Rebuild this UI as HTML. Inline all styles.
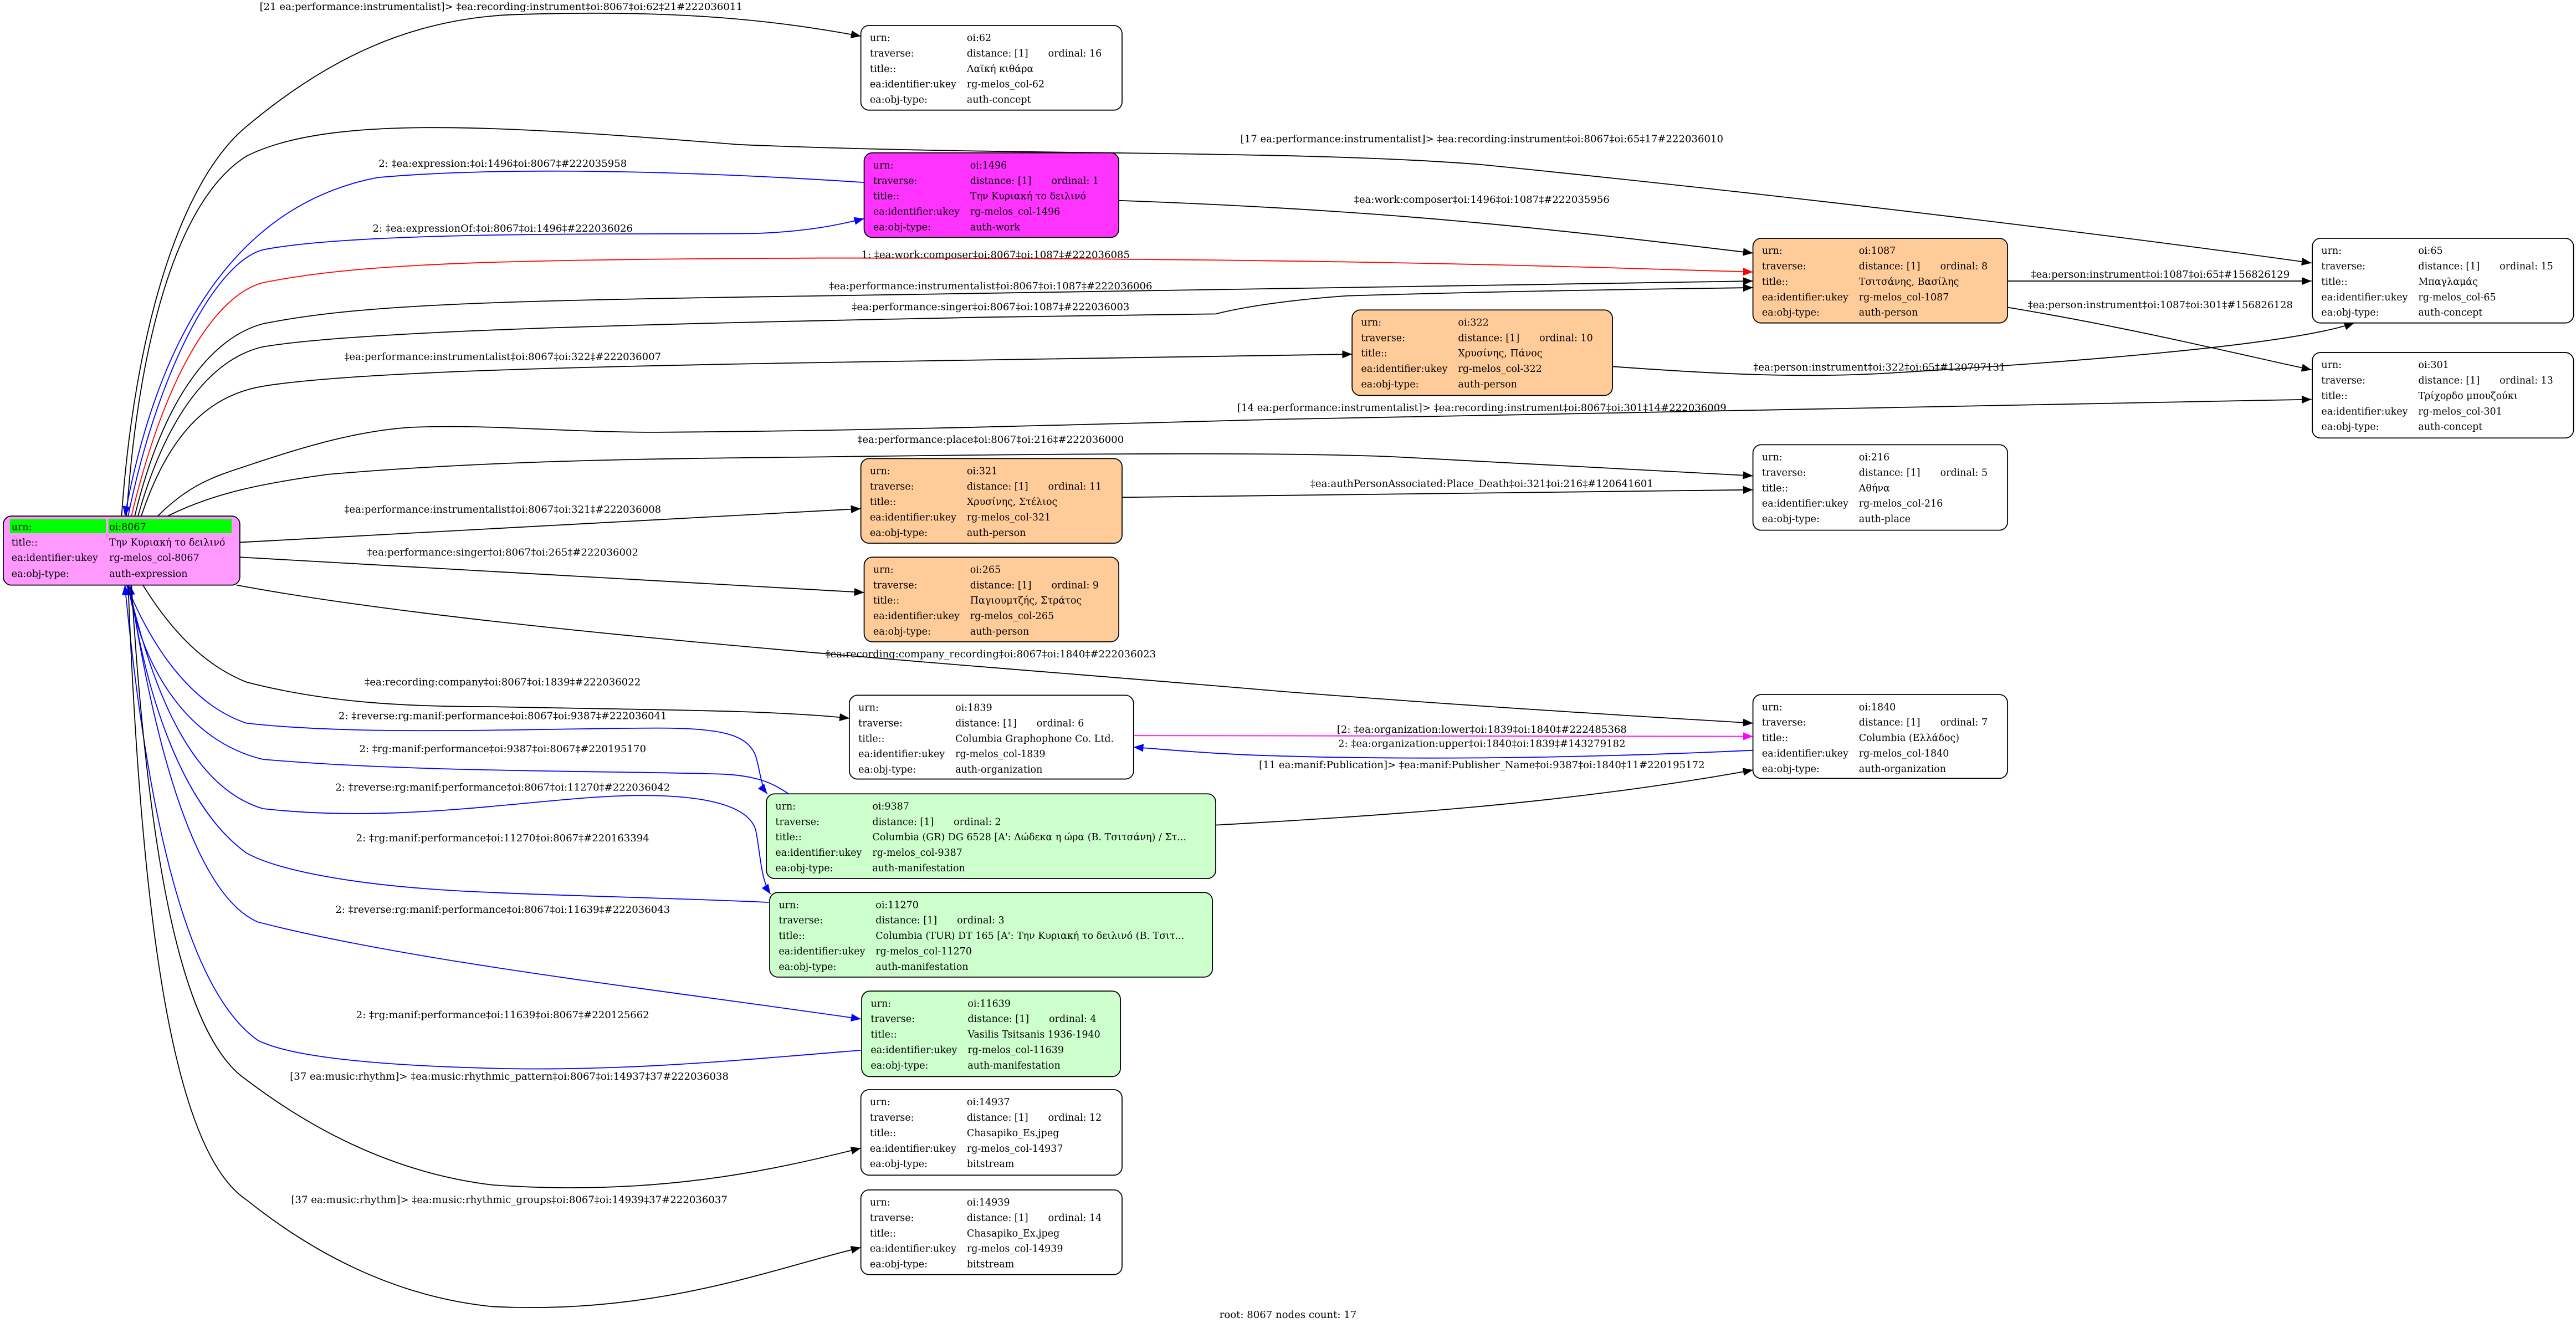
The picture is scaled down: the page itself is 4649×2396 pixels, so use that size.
<!DOCTYPE html>
<html><head><meta charset="utf-8"><style>
html,body{margin:0;padding:0;background:#fff;}
svg{display:block;}
text{font-family:"DejaVu Serif","Liberation Serif",serif;}
.n text{font-size:5.9px;}
.e{font-size:6.1px;text-anchor:middle;}
path.k{fill:none;stroke:#000;stroke-width:0.6;}
path.b{fill:none;stroke:#00f;stroke-width:0.6;}
path.r{fill:none;stroke:#f00;stroke-width:0.6;}
path.m{fill:none;stroke:#f0f;stroke-width:0.6;}
</style></head><body>
<svg width="4649" height="2396" viewBox="0 0 1568 808" preserveAspectRatio="none" xmlns="http://www.w3.org/2000/svg">
<defs>
<marker id="ak" markerUnits="userSpaceOnUse" markerWidth="7" markerHeight="5" refX="6" refY="2.4" orient="auto"><path d="M0,0 L6,2.4 L0,4.8 z" fill="#000"/></marker>
<marker id="ab" markerUnits="userSpaceOnUse" markerWidth="7" markerHeight="5" refX="6" refY="2.4" orient="auto"><path d="M0,0 L6,2.4 L0,4.8 z" fill="#00f"/></marker>
<marker id="ar" markerUnits="userSpaceOnUse" markerWidth="7" markerHeight="5" refX="6" refY="2.4" orient="auto"><path d="M0,0 L6,2.4 L0,4.8 z" fill="#f00"/></marker>
<marker id="am" markerUnits="userSpaceOnUse" markerWidth="7" markerHeight="5" refX="6" refY="2.4" orient="auto"><path d="M0,0 L6,2.4 L0,4.8 z" fill="#f0f"/></marker>
</defs>
<rect width="1568" height="808" fill="#fff"/>

<path class="k" marker-end="url(#ak)" d="M74,314 C82,200 110,110 150,77 C200,35 250,12 310,9 C420,5 480,14 524,22"/>
<text class="e" x="305" y="6">[21 ea:performance:instrumentalist]&gt; ‡ea:recording:instrument‡oi:8067‡oi:62‡21#222036011</text>

<path class="k" marker-end="url(#ak)" d="M77,314 C85,200 110,120 150,95 C200,70 300,76 450,88 C620,95 784,91 900,100 C1100,120 1300,145 1407,160"/>
<text class="e" x="902" y="86.5">[17 ea:performance:instrumentalist]&gt; ‡ea:recording:instrument‡oi:8067‡oi:65‡17#222036010</text>

<path class="b" marker-end="url(#ab)" d="M526,111 C450,106 320,100 230,108 C140,125 95,210 76,314"/>
<text class="e" x="306" y="101.5">2: ‡ea:expression:‡oi:1496‡oi:8067‡#222035958</text>

<path class="b" marker-end="url(#ab)" d="M78,314 C95,230 130,160 160,152 C220,140 400,143 460,142 C490,141 510,137 526,133"/>
<text class="e" x="306" y="141">2: ‡ea:expressionOf:‡oi:8067‡oi:1496‡#222036026</text>

<path class="k" marker-end="url(#ak)" d="M681,122 C850,128 950,140 1067,154"/>
<text class="e" x="902" y="123.5">‡ea:work:composer‡oi:1496‡oi:1087‡#222035956</text>

<path class="r" marker-end="url(#ar)" d="M80,314 C100,230 130,180 160,172 C220,160 300,158 500,157 C800,157 950,162 1067,165.5"/>
<text class="e" x="606" y="157">1: ‡ea:work:composer‡oi:8067‡oi:1087‡#222036085</text>

<path class="k" marker-end="url(#ak)" d="M82,314 C100,240 130,205 160,197 C220,185 300,183 500,180 C800,177 950,172 1067,171"/>
<text class="e" x="603" y="176">‡ea:performance:instrumentalist‡oi:8067‡oi:1087‡#222036006</text>

<path class="k" marker-end="url(#ak)" d="M84,314 C102,250 130,218 160,211 C220,201 400,197 600,193 L740,191 C760,186 790,182 820,180 C920,177 1000,176 1067,175"/>
<text class="e" x="603" y="188.6">‡ea:performance:singer‡oi:8067‡oi:1087‡#222036003</text>

<path class="k" marker-end="url(#ak)" d="M86,314 C104,260 130,240 160,235 C220,225 400,222 600,219 L823,215.5"/>
<text class="e" x="306" y="219">‡ea:performance:instrumentalist‡oi:8067‡oi:322‡#222036007</text>

<path class="k" marker-end="url(#ak)" d="M1222,171 L1407,171"/>
<text class="e" x="1315" y="169">‡ea:person:instrument‡oi:1087‡oi:65‡#156826129</text>

<path class="k" marker-end="url(#ak)" d="M1222,187 C1300,200 1360,215 1407,225"/>
<text class="e" x="1315" y="187.5">‡ea:person:instrument‡oi:1087‡oi:301‡#156826128</text>

<path class="k" marker-end="url(#ak)" d="M981.5,223 C1050,228 1100,230 1150,227 C1300,218 1400,208 1433,196.5"/>
<text class="e" x="1144" y="225.5">‡ea:person:instrument‡oi:322‡oi:65‡#120797131</text>

<path class="k" marker-end="url(#ak)" d="M96,314 C115,295 130,290 150,283.5 C190,270 220,262 250,260 C300,258 340,263 400,263 C550,262 700,257 784,255 C1000,251 1250,246 1407,243"/>
<text class="e" x="902" y="250">[14 ea:performance:instrumentalist]&gt; ‡ea:recording:instrument‡oi:8067‡oi:301‡14#222036009</text>

<path class="k" marker-end="url(#ak)" d="M102,314 C130,300 160,294 200,288.6 C300,280 400,279 500,278 C650,276 784,275 850,278 C950,283 1010,286 1067,289.5"/>
<text class="e" x="603" y="269.5">‡ea:performance:place‡oi:8067‡oi:216‡#222036000</text>

<path class="k" marker-end="url(#ak)" d="M683,302.6 L1067,298"/>
<text class="e" x="902" y="296.3">‡ea:authPersonAssociated:Place_Death‡oi:321‡oi:216‡#120641601</text>

<path class="k" marker-end="url(#ak)" d="M146,330 L524,309.5"/>
<text class="e" x="306" y="312">‡ea:performance:instrumentalist‡oi:8067‡oi:321‡#222036008</text>

<path class="k" marker-end="url(#ak)" d="M146,339 L526,360.5"/>
<text class="e" x="306" y="338">‡ea:performance:singer‡oi:8067‡oi:265‡#222036002</text>

<path class="k" marker-end="url(#ak)" d="M144,356 C300,385 600,405 784,421 C900,430 1000,436 1067,440"/>
<text class="e" x="603" y="400">‡ea:recording:company_recording‡oi:8067‡oi:1840‡#222036023</text>

<path class="k" marker-end="url(#ak)" d="M87,356 C105,385 125,405 150,415 C200,428 250,430 300,430 C400,432 470,432 517,437"/>
<text class="e" x="306" y="417">‡ea:recording:company‡oi:8067‡oi:1839‡#222036022</text>

<path class="m" marker-end="url(#am)" d="M690,447.6 L1067,448"/>
<text class="e" x="902" y="445.8">[2: ‡ea:organization:lower‡oi:1839‡oi:1840‡#222485368</text>

<path class="b" marker-end="url(#ab)" d="M1067,456.5 C950,462 850,462 780,460 C740,459 710,456 690,454.6"/>
<text class="e" x="902" y="454.5">2: ‡ea:organization:upper‡oi:1840‡oi:1839‡#143279182</text>

<path class="k" marker-end="url(#ak)" d="M740,502 C850,496 960,488 1067,468.5"/>
<text class="e" x="902" y="467.4">[11 ea:manif:Publication]&gt; ‡ea:manif:Publisher_Name‡oi:9387‡oi:1840‡11#220195172</text>

<path class="b" marker-end="url(#ab)" d="M77,356 C95,400 120,430 150,440 C220,448 330,443 400,443 C440,443 455,447 460,460 C463,470 463,478 467,483"/>
<text class="e" x="306" y="437.5">2: ‡reverse:rg:manif:performance‡oi:8067‡oi:9387‡#222036041</text>

<path class="b" marker-end="url(#ab)" d="M480,483 C470,476 460,472 440,471 C380,469 250,470 160,462 C110,450 85,400 78,356"/>
<text class="e" x="306" y="457.6">2: ‡rg:manif:performance‡oi:9387‡oi:8067‡#220195170</text>

<path class="b" marker-end="url(#ab)" d="M78,356 C95,430 120,480 160,492 C230,500 300,490 350,486 C420,480 455,488 460,505 C463,520 463,535 469,544"/>
<text class="e" x="306" y="481">2: ‡reverse:rg:manif:performance‡oi:8067‡oi:11270‡#222036042</text>

<path class="b" marker-end="url(#ab)" d="M468,549 C400,546 340,545 300,543 C220,540 170,530 150,519 C110,490 88,420 79,356"/>
<text class="e" x="306" y="512">2: ‡rg:manif:performance‡oi:11270‡oi:8067‡#220163394</text>

<path class="b" marker-end="url(#ab)" d="M79,356 C95,460 120,545 157,561 C250,585 400,602 524,620"/>
<text class="e" x="306" y="555.5">2: ‡reverse:rg:manif:performance‡oi:8067‡oi:11639‡#222036043</text>

<path class="b" marker-end="url(#ab)" d="M524,639 C450,645 380,652 300,650 C220,648 175,642 157,633 C110,600 88,480 76,356"/>
<text class="e" x="306" y="619.5">2: ‡rg:manif:performance‡oi:11639‡oi:8067‡#220125662</text>

<path class="k" marker-end="url(#ak)" d="M80,356 C90,520 110,630 150,657 C200,695 250,715 300,721 C400,728 470,712 524,698.6"/>
<text class="e" x="310" y="657">[37 ea:music:rhythm]&gt; ‡ea:music:rhythmic_pattern‡oi:8067‡oi:14937‡37#222036038</text>

<path class="k" marker-end="url(#ak)" d="M78,356 C86,560 105,700 150,730 C200,770 250,790 300,795 C400,800 470,772 524,759"/>
<text class="e" x="310" y="732">[37 ea:music:rhythm]&gt; ‡ea:music:rhythmic_groups‡oi:8067‡oi:14939‡37#222036037</text>

<g class="n">
<rect x="2" y="314" width="144" height="42" rx="5" fill="#ff99ff" stroke="#000" stroke-width="0.6"/>
<rect x="6" y="315.8" width="58.5" height="8.6" fill="#00ff00"/>
<rect x="66" y="315.8" width="75" height="8.6" fill="#00ff00"/>
<text x="7" y="322.5">urn:</text><text x="66.5" y="322.5">oi:8067</text>
<text x="7" y="332">title::</text><text x="66.5" y="332">Την Κυριακή το δειλινό</text>
<text x="7" y="341.3">ea:identifier:ukey</text><text x="66.5" y="341.3">rg-melos_col-8067</text>
<text x="7" y="351">ea:obj-type:</text><text x="66.5" y="351">auth-expression</text>
</g>

<g class="n">
<rect x="524" y="15.5" width="159" height="51.5" rx="5" fill="#fff" stroke="#000" stroke-width="0.6"/>
<text x="529.5" y="25">urn:</text><text x="588.5" y="25">oi:62</text>
<text x="529.5" y="34.4">traverse:</text><text x="588.5" y="34.4">distance: [1]</text><text x="638" y="34.4">ordinal: 16</text>
<text x="529.5" y="43.8">title::</text><text x="588.5" y="43.8">Λαϊκή κιθάρα</text>
<text x="529.5" y="53.2">ea:identifier:ukey</text><text x="588.5" y="53.2">rg-melos_col-62</text>
<text x="529.5" y="62.6">ea:obj-type:</text><text x="588.5" y="62.6">auth-concept</text>
</g>
<g class="n">
<rect x="526" y="93" width="155" height="51.5" rx="5" fill="#ff33ff" stroke="#000" stroke-width="0.6"/>
<text x="531.5" y="102.5">urn:</text><text x="590.5" y="102.5">oi:1496</text>
<text x="531.5" y="111.9">traverse:</text><text x="590.5" y="111.9">distance: [1]</text><text x="640" y="111.9">ordinal: 1</text>
<text x="531.5" y="121.3">title::</text><text x="590.5" y="121.3">Την Κυριακή το δειλινό</text>
<text x="531.5" y="130.7">ea:identifier:ukey</text><text x="590.5" y="130.7">rg-melos_col-1496</text>
<text x="531.5" y="140.1">ea:obj-type:</text><text x="590.5" y="140.1">auth-work</text>
</g>
<g class="n">
<rect x="1067" y="145" width="155" height="51.5" rx="5" fill="#ffcc99" stroke="#000" stroke-width="0.6"/>
<text x="1072.5" y="154.5">urn:</text><text x="1131.5" y="154.5">oi:1087</text>
<text x="1072.5" y="163.9">traverse:</text><text x="1131.5" y="163.9">distance: [1]</text><text x="1181" y="163.9">ordinal: 8</text>
<text x="1072.5" y="173.3">title::</text><text x="1131.5" y="173.3">Τσιτσάνης, Βασίλης</text>
<text x="1072.5" y="182.7">ea:identifier:ukey</text><text x="1131.5" y="182.7">rg-melos_col-1087</text>
<text x="1072.5" y="192.1">ea:obj-type:</text><text x="1131.5" y="192.1">auth-person</text>
</g>
<g class="n">
<rect x="1407.5" y="145" width="159" height="51.5" rx="5" fill="#fff" stroke="#000" stroke-width="0.6"/>
<text x="1413" y="154.5">urn:</text><text x="1472" y="154.5">oi:65</text>
<text x="1413" y="163.9">traverse:</text><text x="1472" y="163.9">distance: [1]</text><text x="1521.5" y="163.9">ordinal: 15</text>
<text x="1413" y="173.3">title::</text><text x="1472" y="173.3">Μπαγλαμάς</text>
<text x="1413" y="182.7">ea:identifier:ukey</text><text x="1472" y="182.7">rg-melos_col-65</text>
<text x="1413" y="192.1">ea:obj-type:</text><text x="1472" y="192.1">auth-concept</text>
</g>
<g class="n">
<rect x="823" y="188.6" width="158.5" height="52" rx="5" fill="#ffcc99" stroke="#000" stroke-width="0.6"/>
<text x="828.5" y="198.1">urn:</text><text x="887.5" y="198.1">oi:322</text>
<text x="828.5" y="207.5">traverse:</text><text x="887.5" y="207.5">distance: [1]</text><text x="937" y="207.5">ordinal: 10</text>
<text x="828.5" y="216.9">title::</text><text x="887.5" y="216.9">Χρυσίνης, Πάνος</text>
<text x="828.5" y="226.3">ea:identifier:ukey</text><text x="887.5" y="226.3">rg-melos_col-322</text>
<text x="828.5" y="235.7">ea:obj-type:</text><text x="887.5" y="235.7">auth-person</text>
</g>
<g class="n">
<rect x="1407.5" y="214.5" width="159" height="52" rx="5" fill="#fff" stroke="#000" stroke-width="0.6"/>
<text x="1413" y="224">urn:</text><text x="1472" y="224">oi:301</text>
<text x="1413" y="233.4">traverse:</text><text x="1472" y="233.4">distance: [1]</text><text x="1521.5" y="233.4">ordinal: 13</text>
<text x="1413" y="242.8">title::</text><text x="1472" y="242.8">Τρίχορδο μπουζούκι</text>
<text x="1413" y="252.2">ea:identifier:ukey</text><text x="1472" y="252.2">rg-melos_col-301</text>
<text x="1413" y="261.6">ea:obj-type:</text><text x="1472" y="261.6">auth-concept</text>
</g>
<g class="n">
<rect x="1067" y="270.6" width="155" height="52" rx="5" fill="#fff" stroke="#000" stroke-width="0.6"/>
<text x="1072.5" y="280.1">urn:</text><text x="1131.5" y="280.1">oi:216</text>
<text x="1072.5" y="289.5">traverse:</text><text x="1131.5" y="289.5">distance: [1]</text><text x="1181" y="289.5">ordinal: 5</text>
<text x="1072.5" y="298.9">title::</text><text x="1131.5" y="298.9">Αθήνα</text>
<text x="1072.5" y="308.3">ea:identifier:ukey</text><text x="1131.5" y="308.3">rg-melos_col-216</text>
<text x="1072.5" y="317.7">ea:obj-type:</text><text x="1131.5" y="317.7">auth-place</text>
</g>
<g class="n">
<rect x="524" y="279" width="159" height="51.5" rx="5" fill="#ffcc99" stroke="#000" stroke-width="0.6"/>
<text x="529.5" y="288.5">urn:</text><text x="588.5" y="288.5">oi:321</text>
<text x="529.5" y="297.9">traverse:</text><text x="588.5" y="297.9">distance: [1]</text><text x="638" y="297.9">ordinal: 11</text>
<text x="529.5" y="307.3">title::</text><text x="588.5" y="307.3">Χρυσίνης, Στέλιος</text>
<text x="529.5" y="316.7">ea:identifier:ukey</text><text x="588.5" y="316.7">rg-melos_col-321</text>
<text x="529.5" y="326.1">ea:obj-type:</text><text x="588.5" y="326.1">auth-person</text>
</g>
<g class="n">
<rect x="526" y="339" width="155" height="51.5" rx="5" fill="#ffcc99" stroke="#000" stroke-width="0.6"/>
<text x="531.5" y="348.5">urn:</text><text x="590.5" y="348.5">oi:265</text>
<text x="531.5" y="357.9">traverse:</text><text x="590.5" y="357.9">distance: [1]</text><text x="640" y="357.9">ordinal: 9</text>
<text x="531.5" y="367.3">title::</text><text x="590.5" y="367.3">Παγιουμτζής, Στράτος</text>
<text x="531.5" y="376.7">ea:identifier:ukey</text><text x="590.5" y="376.7">rg-melos_col-265</text>
<text x="531.5" y="386.1">ea:obj-type:</text><text x="590.5" y="386.1">auth-person</text>
</g>
<g class="n">
<rect x="517" y="423" width="173" height="51" rx="5" fill="#fff" stroke="#000" stroke-width="0.6"/>
<text x="522.5" y="432.5">urn:</text><text x="581.5" y="432.5">oi:1839</text>
<text x="522.5" y="441.9">traverse:</text><text x="581.5" y="441.9">distance: [1]</text><text x="631" y="441.9">ordinal: 6</text>
<text x="522.5" y="451.3">title::</text><text x="581.5" y="451.3">Columbia Graphophone Co. Ltd.</text>
<text x="522.5" y="460.7">ea:identifier:ukey</text><text x="581.5" y="460.7">rg-melos_col-1839</text>
<text x="522.5" y="470.1">ea:obj-type:</text><text x="581.5" y="470.1">auth-organization</text>
</g>
<g class="n">
<rect x="1067" y="422.6" width="155" height="51" rx="5" fill="#fff" stroke="#000" stroke-width="0.6"/>
<text x="1072.5" y="432.1">urn:</text><text x="1131.5" y="432.1">oi:1840</text>
<text x="1072.5" y="441.5">traverse:</text><text x="1131.5" y="441.5">distance: [1]</text><text x="1181" y="441.5">ordinal: 7</text>
<text x="1072.5" y="450.9">title::</text><text x="1131.5" y="450.9">Columbia (Ελλάδος)</text>
<text x="1072.5" y="460.3">ea:identifier:ukey</text><text x="1131.5" y="460.3">rg-melos_col-1840</text>
<text x="1072.5" y="469.7">ea:obj-type:</text><text x="1131.5" y="469.7">auth-organization</text>
</g>
<g class="n">
<rect x="466.5" y="483" width="273.5" height="51.5" rx="5" fill="#ccffcc" stroke="#000" stroke-width="0.6"/>
<text x="472" y="492.5">urn:</text><text x="531" y="492.5">oi:9387</text>
<text x="472" y="501.9">traverse:</text><text x="531" y="501.9">distance: [1]</text><text x="580.5" y="501.9">ordinal: 2</text>
<text x="472" y="511.3">title::</text><text x="531" y="511.3">Columbia (GR) DG 6528 [A': Δώδεκα η ώρα (Β. Τσιτσάνη) / Στ...</text>
<text x="472" y="520.7">ea:identifier:ukey</text><text x="531" y="520.7">rg-melos_col-9387</text>
<text x="472" y="530.1">ea:obj-type:</text><text x="531" y="530.1">auth-manifestation</text>
</g>
<g class="n">
<rect x="468.5" y="543" width="269.5" height="51.5" rx="5" fill="#ccffcc" stroke="#000" stroke-width="0.6"/>
<text x="474" y="552.5">urn:</text><text x="533" y="552.5">oi:11270</text>
<text x="474" y="561.9">traverse:</text><text x="533" y="561.9">distance: [1]</text><text x="582.5" y="561.9">ordinal: 3</text>
<text x="474" y="571.3">title::</text><text x="533" y="571.3">Columbia (TUR) DT 165 [A': Την Κυριακή το δειλινό (Β. Τσιτ...</text>
<text x="474" y="580.7">ea:identifier:ukey</text><text x="533" y="580.7">rg-melos_col-11270</text>
<text x="474" y="590.1">ea:obj-type:</text><text x="533" y="590.1">auth-manifestation</text>
</g>
<g class="n">
<rect x="524.5" y="603" width="157.5" height="52" rx="5" fill="#ccffcc" stroke="#000" stroke-width="0.6"/>
<text x="530" y="612.5">urn:</text><text x="589" y="612.5">oi:11639</text>
<text x="530" y="621.9">traverse:</text><text x="589" y="621.9">distance: [1]</text><text x="638.5" y="621.9">ordinal: 4</text>
<text x="530" y="631.3">title::</text><text x="589" y="631.3">Vasilis Tsitsanis 1936-1940</text>
<text x="530" y="640.7">ea:identifier:ukey</text><text x="589" y="640.7">rg-melos_col-11639</text>
<text x="530" y="650.1">ea:obj-type:</text><text x="589" y="650.1">auth-manifestation</text>
</g>
<g class="n">
<rect x="524" y="663" width="159" height="52" rx="5" fill="#fff" stroke="#000" stroke-width="0.6"/>
<text x="529.5" y="672.5">urn:</text><text x="588.5" y="672.5">oi:14937</text>
<text x="529.5" y="681.9">traverse:</text><text x="588.5" y="681.9">distance: [1]</text><text x="638" y="681.9">ordinal: 12</text>
<text x="529.5" y="691.3">title::</text><text x="588.5" y="691.3">Chasapiko_Es.jpeg</text>
<text x="529.5" y="700.7">ea:identifier:ukey</text><text x="588.5" y="700.7">rg-melos_col-14937</text>
<text x="529.5" y="710.1">ea:obj-type:</text><text x="588.5" y="710.1">bitstream</text>
</g>
<g class="n">
<rect x="524" y="724" width="159" height="51.5" rx="5" fill="#fff" stroke="#000" stroke-width="0.6"/>
<text x="529.5" y="733.5">urn:</text><text x="588.5" y="733.5">oi:14939</text>
<text x="529.5" y="742.9">traverse:</text><text x="588.5" y="742.9">distance: [1]</text><text x="638" y="742.9">ordinal: 14</text>
<text x="529.5" y="752.3">title::</text><text x="588.5" y="752.3">Chasapiko_Ex.jpeg</text>
<text x="529.5" y="761.7">ea:identifier:ukey</text><text x="588.5" y="761.7">rg-melos_col-14939</text>
<text x="529.5" y="771.1">ea:obj-type:</text><text x="588.5" y="771.1">bitstream</text>
</g>

<text class="e" x="784" y="802">root: 8067 nodes count: 17</text>
</svg>
</body></html>
